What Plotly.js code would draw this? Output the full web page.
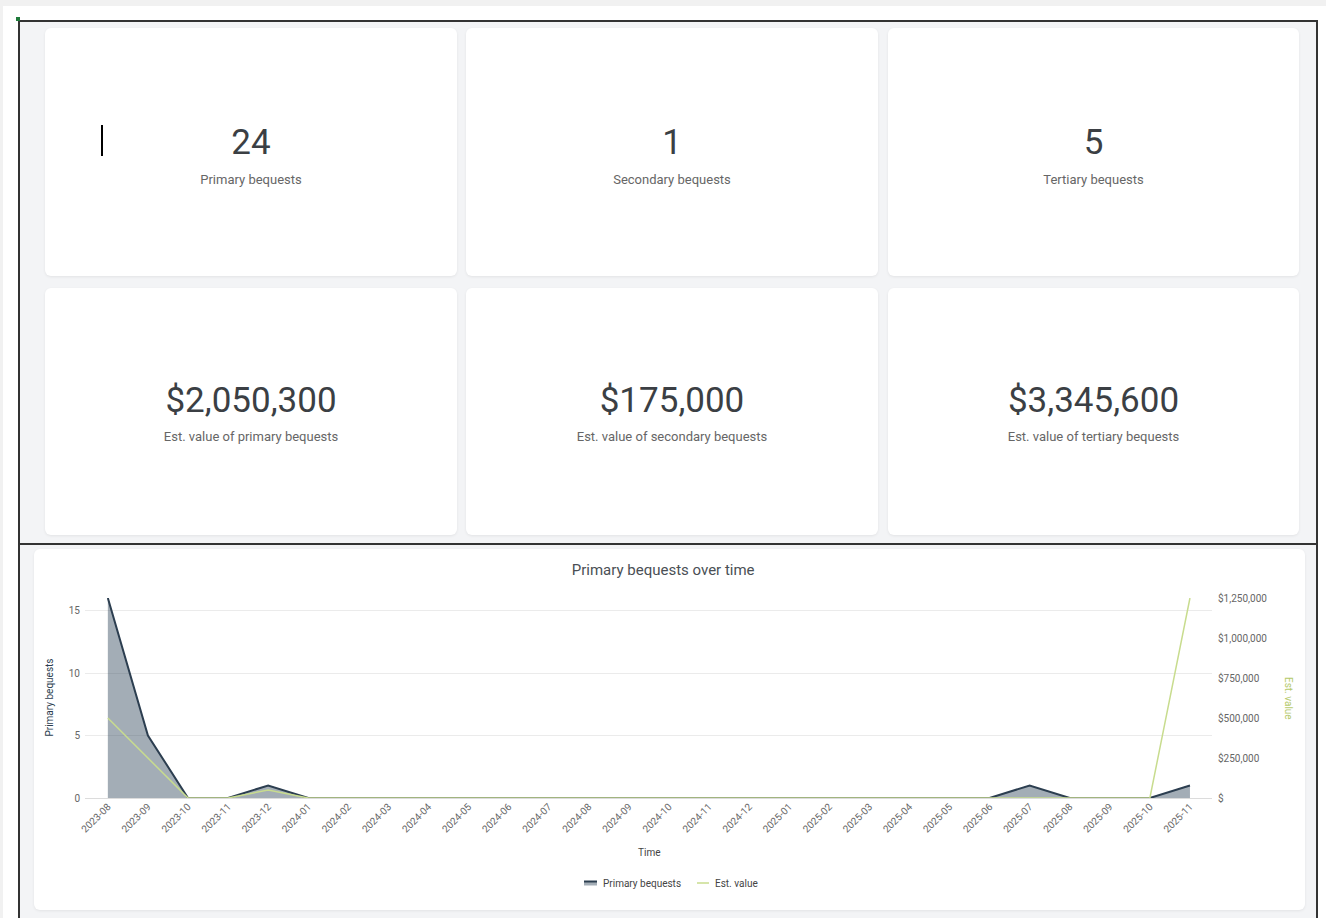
<!DOCTYPE html>
<html>
<head>
<meta charset="utf-8">
<script src="https://cdn.plot.ly/plotly-3.0.1.min.js"></script>
<style>
  html, body { margin: 0; padding: 0; }
  body { width: 1326px; height: 918px; background: #ffffff; position: relative; overflow: hidden; font-family: Roboto, "Noto Sans", sans-serif; }
  .topstrip { position: absolute; left: 0; top: 0; width: 1326px; height: 6px; background: #f1f1f1; }
  .leftstrip { position: absolute; left: 0; top: 0; width: 3px; height: 918px; background: #f1f1f1; }
  .frame { position: absolute; left: 18px; width: 1296px; border: 2px solid #333; background: #f3f4f6; box-sizing: content-box; }
  .card { position: absolute; background: #fff; border-radius: 6px; box-shadow: 0 1px 3px rgba(0,0,0,0.07); }
  .stat { position: absolute; left: 0; width: 100%; text-align: center; color: #3b3f44; }
  .num { font-size: 35px; line-height: 40px; }
  .lab { font-size: 13px; line-height: 18px; color: #666; }
  #cursor { position: absolute; left: 101px; top: 125px; width: 2px; height: 31px; background: #000; }
  #dot { position: absolute; left: 16px; top: 17px; width: 4px; height: 4px; background: #1f7a3a; }
  #chartcard { position: absolute; left: 34px; top: 549px; width: 1271px; height: 361px; background: #fff; border-radius: 6px; box-shadow: 0 1px 3px rgba(0,0,0,0.07); }
  #chart { position: absolute; left: 0; top: 0; width: 1271px; height: 361px; }
</style>
</head>
<body>
<div class="topstrip"></div>
<div class="leftstrip"></div>
<div class="frame" style="top:20px;height:523px;"></div>
<div class="frame" style="top:543px;height:400px;"></div>
<div id="cards"></div>
<div id="cursor"></div>
<div id="dot"></div>
<div id="chartcard"><div id="chart"></div></div>
<script>
// ---- data ----
const statValues = ["24", "1", "5", "$2,050,300", "$175,000", "$3,345,600"];
const statLabels = ["Primary bequests", "Secondary bequests", "Tertiary bequests",
  "Est. value of primary bequests", "Est. value of secondary bequests", "Est. value of tertiary bequests"];

const months = ["2023-08","2023-09","2023-10","2023-11","2023-12",
  "2024-01","2024-02","2024-03","2024-04","2024-05","2024-06","2024-07","2024-08","2024-09","2024-10","2024-11","2024-12",
  "2025-01","2025-02","2025-03","2025-04","2025-05","2025-06","2025-07","2025-08","2025-09","2025-10","2025-11"];
const primaryBequests = [16,5,0,0,1,
  0,0,0,0,0,0,0,0,0,0,0,0,
  0,0,0,0,0,0,1,0,0,0,1];
const estValue = [500000,250300,0,0,50000,
  0,0,0,0,0,0,0,0,0,0,0,0,
  0,0,0,0,0,0,0,0,0,0,1250000];
const rightTickVals = [0,250000,500000,750000,1000000,1250000];
const rightTickText = ["$","$250,000","$500,000","$750,000","$1,000,000","$1,250,000"];
const seriesNames = ["Primary bequests", "Est. value"];

// ---- stat cards ----
const colX = [45, 466, 888];
const colW = [412, 412, 411];
const rowY = [28, 288];
const rowH = [248, 247];
const numTop = [95, 93];
const labTop = [143, 140];
const cardsEl = document.getElementById('cards');
statValues.forEach((v, i) => {
  const r = Math.floor(i / 3), c = i % 3;
  const d = document.createElement('div');
  d.className = 'card';
  d.style.left = colX[c] + 'px';
  d.style.top = rowY[r] + 'px';
  d.style.width = colW[c] + 'px';
  d.style.height = rowH[r] + 'px';
  const n = document.createElement('div');
  n.className = 'stat num';
  n.style.top = numTop[r] + 'px';
  n.textContent = v;
  const l = document.createElement('div');
  l.className = 'stat lab';
  l.style.top = labTop[r] + 'px';
  l.textContent = statLabels[i];
  d.appendChild(n); d.appendChild(l);
  cardsEl.appendChild(d);
});

// ---- chart ----
const darkColor = '#2c3e50';
const greenColor = '#c8dc8e';
const traces = [
  {
    x: months, y: primaryBequests, name: seriesNames[0], type: 'scatter', mode: 'lines',
    line: { color: darkColor, width: 2 }, fill: 'tozeroy', fillcolor: 'rgba(52,73,94,0.45)',
    yaxis: 'y'
  },
  {
    x: months, y: estValue, name: seriesNames[1], type: 'scatter', mode: 'lines',
    line: { color: greenColor, width: 1.5 }, yaxis: 'y2'
  }
];
// plot area in page: left 85, width 1127; bottom 798, height 200
const px = X => (X - 85) / 1127;
const py = Y => (798 - Y) / 200;
const layout = {
  width: 1271, height: 361,
  margin: { l: 51, r: 93, t: 49, b: 112 },
  paper_bgcolor: 'rgba(0,0,0,0)', plot_bgcolor: 'rgba(0,0,0,0)',
  font: { family: 'Roboto, sans-serif', color: '#666', size: 10 },
  title: { text: 'Primary bequests over time', x: 0.495, xanchor: 'center', y: 0.942, yanchor: 'middle', yref: 'container',
    font: { size: 15, color: '#4a4f55', family: 'Roboto, sans-serif' } },
  showlegend: false,
  xaxis: {
    type: 'category', range: [-0.57, 27.55], showgrid: false, zeroline: false, showline: false,
    tickangle: -45, tickfont: { size: 10, color: '#666' }, ticks: ''
  },
  yaxis: {
    range: [0, 16], dtick: 5, tick0: 0, showgrid: true, gridcolor: '#ebebeb', zeroline: true, zerolinecolor: '#dcdcdc',
    zerolinewidth: 1, showline: false, tickfont: { size: 10, color: '#666' }, ticks: '', ticklabelstandoff: 4
  },
  yaxis2: {
    overlaying: 'y', side: 'right', range: [0, 1250000], tickvals: rightTickVals, ticktext: rightTickText,
    showgrid: false, zeroline: false, showline: false, tickfont: { size: 10, color: '#666' }, ticks: '', ticklabelstandoff: 5
  },
  shapes: [
    { type: 'rect', xref: 'paper', yref: 'paper', x0: px(584), x1: px(597), y0: py(885.5), y1: py(881),
      fillcolor: 'rgba(52,73,94,0.45)', line: { color: darkColor, width: 0 } },
    { type: 'line', xref: 'paper', yref: 'paper', x0: px(584), x1: px(597), y0: py(881.5), y1: py(881.5),
      line: { color: darkColor, width: 2 } },
    { type: 'line', xref: 'paper', yref: 'paper', x0: px(697), x1: px(709), y0: py(883), y1: py(883),
      line: { color: greenColor, width: 1.5 } }
  ],
  annotations: [
    { text: 'Primary bequests', xref: 'paper', yref: 'paper', x: -0.039, y: 0.5, textangle: -90, showarrow: false,
      font: { size: 10, color: '#2c3e50' } },
    { text: 'Est. value', xref: 'paper', yref: 'paper', x: 1.075, y: 0.5, textangle: 90, showarrow: false,
      font: { size: 10, color: '#b5c96b' } },
    { text: 'Time', xref: 'paper', yref: 'paper', x: 0.5, y: -0.27, yanchor: 'middle', showarrow: false,
      font: { size: 10, color: '#444' } },
    { text: seriesNames[0], xref: 'paper', yref: 'paper', x: px(601), xanchor: 'left', y: py(883), yanchor: 'middle',
      showarrow: false, font: { size: 10, color: '#444' } },
    { text: seriesNames[1], xref: 'paper', yref: 'paper', x: px(713), xanchor: 'left', y: py(883), yanchor: 'middle',
      showarrow: false, font: { size: 10, color: '#444' } }
  ]
};
Plotly.newPlot('chart', traces, layout, { displayModeBar: false, staticPlot: true });
</script>
</body>
</html>
